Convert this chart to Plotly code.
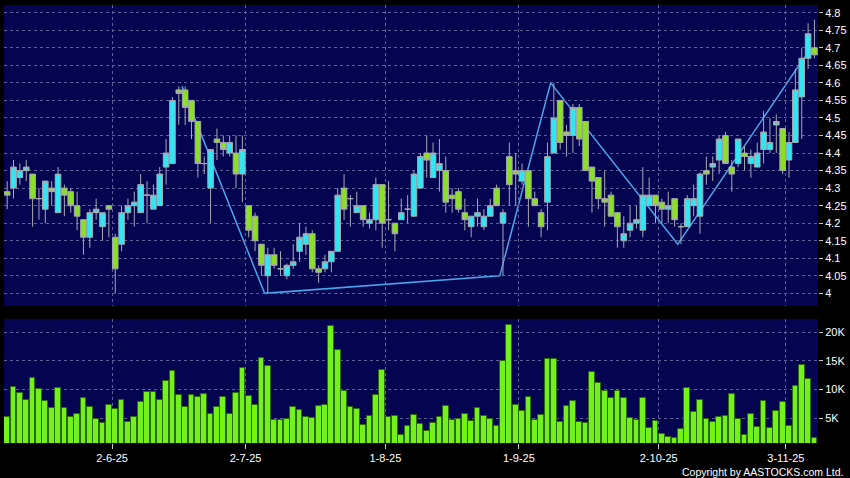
import pandas as pd
import plotly.graph_objects as go

# ---------------- data ----------------
holidays = ["2025-07-01", "2025-10-01", "2025-10-07", "2025-10-29"]
dates = [d for d in pd.bdate_range("2025-05-08", "2025-11-07") if d.strftime("%Y-%m-%d") not in holidays]

opens = [4.29, 4.30, 4.33, 4.35, 4.34, 4.27, 4.24, 4.30, 4.23, 4.30,
         4.29, 4.25, 4.21, 4.16, 4.23, 4.19, 4.25, 4.16, 4.14, 4.23,
         4.25, 4.23, 4.28, 4.24, 4.25, 4.36, 4.37, 4.58, 4.58, 4.55,
         4.49, 4.37, 4.30, 4.44, 4.43, 4.40, 4.40, 4.34, 4.25, 4.22,
         4.14, 4.05, 4.11, 4.07, 4.05, 4.08, 4.12, 4.14, 4.17, 4.07,
         4.07, 4.09, 4.12, 4.30, 4.27, 4.23, 4.25, 4.20, 4.21, 4.31,
         4.21, 4.20, 4.21, 4.24, 4.22, 4.30, 4.40, 4.33, 4.35, 4.35,
         4.28, 4.29, 4.23, 4.19, 4.22, 4.19, 4.22, 4.30, 4.20, 4.39,
         4.35, 4.32, 4.35, 4.27, 4.23, 4.26, 4.40, 4.55, 4.46, 4.45,
         4.53, 4.49, 4.36, 4.33, 4.27, 4.28, 4.23, 4.15, 4.18, 4.20,
         4.18, 4.25, 4.28, 4.26, 4.24, 4.27, 4.19, 4.19, 4.25, 4.22,
         4.35, 4.36, 4.38, 4.45, 4.36, 4.37, 4.40, 4.37, 4.36, 4.41,
         4.41, 4.48, 4.47, 4.38, 4.43, 4.56, 4.67, 4.70]
highs = [4.32, 4.38, 4.37, 4.38, 4.34, 4.30, 4.32, 4.32, 4.36, 4.31,
         4.30, 4.29, 4.21, 4.24, 4.27, 4.23, 4.25, 4.17, 4.25, 4.27,
         4.29, 4.34, 4.32, 4.31, 4.36, 4.44, 4.56, 4.59, 4.59, 4.55,
         4.49, 4.39, 4.41, 4.47, 4.45, 4.45, 4.45, 4.45, 4.25, 4.23,
         4.14, 4.13, 4.13, 4.12, 4.085, 4.14, 4.20, 4.19, 4.18, 4.08,
         4.11, 4.12, 4.30, 4.34, 4.28, 4.29, 4.25, 4.23, 4.33, 4.31,
         4.32, 4.20, 4.27, 4.28, 4.35, 4.40, 4.45, 4.43, 4.44, 4.39,
         4.30, 4.30, 4.27, 4.22, 4.27, 4.24, 4.27, 4.31, 4.24, 4.43,
         4.40, 4.37, 4.35, 4.29, 4.24, 4.43, 4.60, 4.55, 4.48, 4.54,
         4.54, 4.49, 4.36, 4.33, 4.35, 4.29, 4.23, 4.22, 4.25, 4.25,
         4.36, 4.33, 4.28, 4.27, 4.29, 4.27, 4.20, 4.28, 4.31, 4.345,
         4.39, 4.39, 4.45, 4.46, 4.38, 4.44, 4.42, 4.41, 4.43, 4.52,
         4.50, 4.51, 4.47, 4.46, 4.64, 4.70, 4.77, 4.78]
lows = [4.24, 4.27, 4.31, 4.32, 4.19, 4.21, 4.20, 4.25, 4.23, 4.22,
        4.23, 4.18, 4.11, 4.13, 4.21, 4.15, 4.16, 4.00, 4.12, 4.21,
        4.19, 4.23, 4.20, 4.24, 4.25, 4.31, 4.37, 4.48, 4.48, 4.44,
        4.33, 4.34, 4.20, 4.38, 4.39, 4.39, 4.30, 4.26, 4.16, 4.12,
        4.05, 4.00, 4.07, 4.05, 4.04, 4.07, 4.09, 4.11, 4.06, 4.03,
        4.06, 4.06, 4.12, 4.21, 4.19, 4.23, 4.19, 4.185, 4.18, 4.13,
        4.18, 4.12, 4.21, 4.20, 4.22, 4.30, 4.33, 4.33, 4.29, 4.23,
        4.23, 4.23, 4.18, 4.16, 4.19, 4.18, 4.22, 4.25, 4.05, 4.25,
        4.25, 4.31, 4.19, 4.25, 4.16, 4.18, 4.40, 4.41, 4.39, 4.40,
        4.42, 4.35, 4.23, 4.24, 4.19, 4.22, 4.13, 4.13, 4.16, 4.185,
        4.16, 4.25, 4.20, 4.20, 4.20, 4.19, 4.14, 4.19, 4.22, 4.17,
        4.31, 4.32, 4.34, 4.37, 4.29, 4.36, 4.35, 4.33, 4.36, 4.37,
        4.40, 4.40, 4.34, 4.33, 4.43, 4.44, 4.64, 4.67]
closes = [4.28, 4.36, 4.35, 4.36, 4.27, 4.27, 4.32, 4.29, 4.34, 4.28,
          4.25, 4.22, 4.16, 4.23, 4.24, 4.23, 4.24, 4.07, 4.23, 4.25,
          4.26, 4.31, 4.28, 4.28, 4.34, 4.40, 4.55, 4.57, 4.53, 4.49,
          4.37, 4.37, 4.41, 4.43, 4.41, 4.43, 4.34, 4.41, 4.18, 4.15,
          4.08, 4.11, 4.08, 4.07, 4.08, 4.09, 4.16, 4.17, 4.07, 4.06,
          4.09, 4.12, 4.28, 4.24, 4.27, 4.25, 4.21, 4.21, 4.31, 4.20,
          4.21, 4.17, 4.23, 4.24, 4.34, 4.39, 4.38, 4.40, 4.37, 4.26,
          4.27, 4.24, 4.21, 4.22, 4.23, 4.22, 4.25, 4.25, 4.23, 4.31,
          4.34, 4.35, 4.27, 4.25, 4.19, 4.39, 4.50, 4.43, 4.45, 4.53,
          4.44, 4.35, 4.32, 4.27, 4.26, 4.22, 4.19, 4.17, 4.20, 4.21,
          4.28, 4.28, 4.25, 4.24, 4.25, 4.21, 4.19, 4.27, 4.27, 4.34,
          4.34, 4.37, 4.44, 4.37, 4.34, 4.44, 4.39, 4.39, 4.40, 4.46,
          4.43, 4.49, 4.35, 4.43, 4.58, 4.67, 4.74, 4.68]
volumes_k = [5.2, 10.4, 9.35, 8.2, 12.0, 10.05, 8.0, 6.85, 10.2, 6.75,
             5.3, 5.75, 8.6, 7.0, 4.8, 4.25, 7.25, 6.6, 8.15, 4.35,
             5.3, 7.85, 9.55, 9.6, 8.2, 11.45, 13.25, 9.1, 7.0, 9.0,
             8.75, 9.25, 5.8, 7.0, 8.65, 5.75, 9.4, 13.75, 8.95, 7.3,
             15.5, 14.2, 4.7, 4.7, 4.9, 6.9, 6.45, 5.15, 5.0, 7.1,
             7.4, 21.1, 16.85, 9.7, 6.9, 6.6, 3.9, 5.4, 9.05, 13.35,
             5.25, 5.4, 2.1, 3.65, 5.6, 3.95, 2.8, 4.2, 5.3, 7.2,
             4.75, 4.95, 5.8, 4.55, 6.75, 5.4, 4.95, 3.6, 15.0, 21.25,
             7.3, 6.25, 8.65, 4.75, 5.65, 15.4, 15.35, 4.4, 7.15, 8.1,
             4.35, 4.1, 13.05, 11.1, 9.75, 8.5, 9.7, 8.5, 5.1, 4.65,
             8.6, 3.35, 4.55, 2.25, 1.7, 1.5, 3.2, 10.25, 6.05, 8.15,
             4.95, 4.4, 5.15, 5.4, 9.25, 4.8, 2.05, 5.7, 3.45, 7.95,
             3.4, 6.35, 7.9, 3.6, 10.55, 14.25, 11.9, 1.65]

zigzag_idx = [28, 41, 78, 86, 106, 126]
zigzag_val = [4.59, 4.00, 4.05, 4.60, 4.14, 4.675]

price_ticks = [4.0 + 0.05 * k for k in range(17)]
price_ticktext = [("%.2f" % v).rstrip("0").rstrip(".") for v in price_ticks]
vol_ticks = [5, 10, 15, 20]
vol_ticktext = ["5K", "10K", "15K", "20K"]
label_dates = ["2025-06-02", "2025-07-02", "2025-08-01", "2025-09-01", "2025-10-02", "2025-11-03"]

# ---------------- figure ----------------
xs = list(range(len(dates)))
date_str = [d.strftime("%Y-%m-%d") for d in dates]
tick_pos = [date_str.index(d) - 0.5 for d in label_dates]
tick_txt = ["%d-%d-%s" % (pd.Timestamp(d).day, pd.Timestamp(d).month, pd.Timestamp(d).strftime("%y")) for d in label_dates]

FONT = "Liberation Sans, Arial, sans-serif"
GRID = "#5e5e98"
NAVY = "#040450"

fig = go.Figure()

fig.add_trace(go.Candlestick(
    x=xs, open=opens, high=highs, low=lows, close=closes,
    xaxis="x", yaxis="y",
    increasing=dict(line=dict(color="#a8a8b0", width=1), fillcolor="#2ee6f4"),
    decreasing=dict(line=dict(color="#a8a8b0", width=1), fillcolor="#8ae022"),
    whiskerwidth=0, showlegend=False, hoverinfo="skip",
))

fig.add_trace(go.Bar(
    x=xs, y=volumes_k, xaxis="x2", yaxis="y2", width=0.9,
    marker=dict(color="#74f01c", line=dict(color="#2a6a08", width=1)),
    showlegend=False, hoverinfo="skip",
))

path = "M " + " L ".join("%g,%g" % (i - 0.5, v) for i, v in zip(zigzag_idx, zigzag_val))
fig.add_shape(type="path", path=path, xref="x", yref="y", layer="below",
              line=dict(color="#4aa6ec", width=1.5))

xcommon = dict(range=[-0.5, 127.56], showgrid=True, gridcolor=GRID, griddash="3px,3px",
               gridwidth=1, tickvals=tick_pos, zeroline=False, showline=False,
               rangeslider=dict(visible=False))

fig.update_layout(
    width=850, height=478,
    margin=dict(l=4, r=32, t=5, b=35),
    paper_bgcolor="#000000", plot_bgcolor=NAVY,
    font=dict(family=FONT, size=11, color="#ffffff"),
    boxgap=0.12, boxgroupgap=0, bargap=0,
    xaxis=dict(**xcommon, anchor="y", showticklabels=False, ticks=""),
    xaxis2=dict(**xcommon, anchor="y2", matches="x", ticktext=tick_txt,
                ticks="outside", ticklen=5, tickcolor="#c8c8c8",
                tickfont=dict(size=11, color="#ffffff")),
    yaxis=dict(domain=[0.3128, 1.0], range=[3.964, 4.822], side="right",
               tickvals=price_ticks, ticktext=price_ticktext,
               showgrid=True, gridcolor=GRID, griddash="3px,3px", zeroline=False,
               ticks="outside", ticklen=4, tickcolor="#c8c8c8",
               tickfont=dict(size=11, color="#ffffff")),
    yaxis2=dict(domain=[0.0, 0.2831], range=[0.7, 22.3], side="right",
                tickvals=vol_ticks, ticktext=vol_ticktext,
                showgrid=True, gridcolor=GRID, griddash="3px,3px", zeroline=False,
                ticks="outside", ticklen=4, tickcolor="#c8c8c8",
                tickfont=dict(size=11, color="#ffffff")),
    annotations=[dict(text="Copyright by AASTOCKS.com Ltd.", xref="paper", yref="paper",
                      x=1.0332, y=-0.0662, xanchor="right", yanchor="middle",
                      showarrow=False, font=dict(size=10.5, color="#ffffff", family=FONT))],
)

fig.write_html("out.html", config={"displayModeBar": False},
               post_script="document.body.style.margin='0';document.body.style.overflow='hidden';")
